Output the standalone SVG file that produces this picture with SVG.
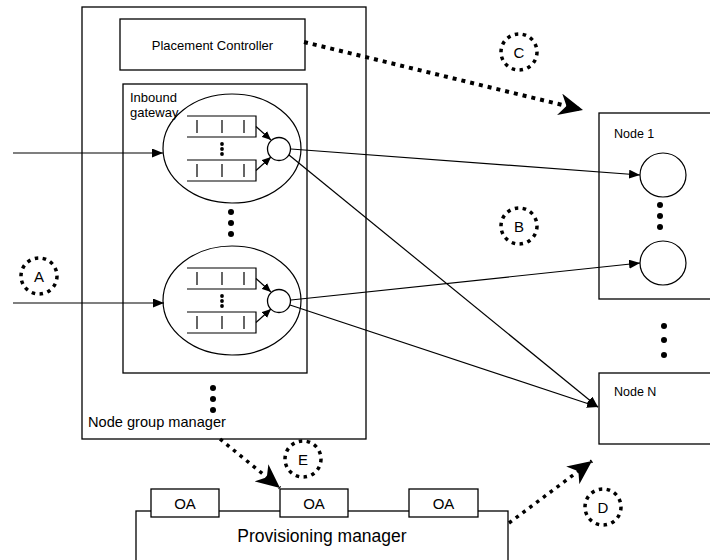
<svg xmlns="http://www.w3.org/2000/svg" width="710" height="560" viewBox="0 0 710 560">
<defs>
<style>
.box{fill:#fff;stroke:#000;stroke-width:1.3}
.ln{fill:none;stroke:#000;stroke-width:1.2}
.t{font-family:"Liberation Sans",Arial,sans-serif;fill:#000}
.dot{fill:#000}
.dc{fill:none;stroke:#000;stroke-width:3.5;stroke-dasharray:3.5 4.5}
.big{fill:none;stroke:#000;stroke-width:4;stroke-dasharray:4 5}
.med{fill:none;stroke:#000;stroke-width:3.5;stroke-dasharray:3.5 5}
</style>
<marker id="tri" markerUnits="userSpaceOnUse" markerWidth="11" markerHeight="9" refX="11" refY="4.5" orient="auto">
<path d="M0,0 L11,4.5 L0,9 z" fill="#000"/>
</marker>
<marker id="tris" markerUnits="userSpaceOnUse" markerWidth="9" markerHeight="8" refX="9" refY="4" orient="auto">
<path d="M0,0 L9,4 L0,8 z" fill="#000"/>
</marker>
<marker id="stealth" markerUnits="userSpaceOnUse" markerWidth="24" markerHeight="22" refX="24" refY="11" orient="auto">
<path d="M0,0 L24,11 L0,22 L7,11 z" fill="#000"/>
</marker>
<g id="gwshape">
<ellipse cx="232" cy="148.5" rx="69" ry="54.5" class="ln"/>
<path d="M187,116 H256 V137 H187 M187,160 H256 V181 H187" class="ln"/>
<path d="M197,120 V133 M222,120 V133 M244,120 V133 M197,164 V177 M222,164 V177 M244,164 V177" class="ln"/>
<circle cx="222" cy="144" r="1.9" class="dot"/>
<circle cx="222" cy="149" r="1.9" class="dot"/>
<circle cx="222" cy="154" r="1.9" class="dot"/>
<path d="M256,126.5 L271,140" class="ln" marker-end="url(#tris)"/>
<path d="M256,170.5 L271,157" class="ln" marker-end="url(#tris)"/>
<circle cx="279" cy="149" r="11.5" class="box" stroke-width="1.2"/>
</g>
</defs>

<g id="node-group-manager">
<rect x="82" y="7" width="284" height="432" class="box"/>
<text x="88" y="427" class="t" font-size="14.6">Node group manager</text>
<circle cx="213" cy="388" r="3" class="dot"/>
<circle cx="213" cy="399" r="3" class="dot"/>
<circle cx="213" cy="410" r="3" class="dot"/>
</g>

<g id="placement-controller">
<rect x="120" y="19" width="185" height="51" class="box"/>
<text x="212.5" y="50" class="t" font-size="13" text-anchor="middle">Placement Controller</text>
</g>

<g id="inbound-gateway">
<rect x="123" y="84" width="184" height="289" class="box"/>
<text x="130" y="102" class="t" font-size="13">Inbound</text>
<text x="130" y="117" class="t" font-size="13">gateway</text>
<circle cx="231" cy="212" r="3" class="dot"/>
<circle cx="231" cy="223" r="3" class="dot"/>
<circle cx="231" cy="234" r="3" class="dot"/>
</g>

<g id="gateway-1">
<use href="#gwshape"/>
</g>
<g id="gateway-2">
<use href="#gwshape" transform="translate(0,152)"/>
</g>

<g id="node-1">
<rect x="599" y="113" width="120" height="186" class="box"/>
<text x="614" y="138" class="t" font-size="12.5">Node 1</text>
<ellipse cx="663" cy="175" rx="23" ry="22" class="ln"/>
<ellipse cx="663" cy="263" rx="23" ry="22" class="ln"/>
<circle cx="660" cy="205" r="3" class="dot"/>
<circle cx="660" cy="216" r="3" class="dot"/>
<circle cx="660" cy="227" r="3" class="dot"/>
</g>

<g id="node-dots">
<circle cx="664" cy="326" r="3" class="dot"/>
<circle cx="664" cy="340" r="3" class="dot"/>
<circle cx="664" cy="355" r="3" class="dot"/>
</g>

<g id="node-n">
<rect x="599" y="373" width="120" height="71" class="box"/>
<text x="614" y="396" class="t" font-size="12.5">Node N</text>
</g>

<g id="provisioning-manager">
<rect x="136" y="511" width="372" height="60" class="box"/>
<text x="322" y="542" class="t" font-size="17.5" text-anchor="middle">Provisioning manager</text>
</g>
<g id="oa-1">
<rect x="151" y="489" width="68" height="28" class="box"/>
<text x="185" y="509" class="t" font-size="15" text-anchor="middle">OA</text>
</g>
<g id="oa-2">
<rect x="280" y="489" width="68" height="28" class="box"/>
<text x="314" y="509" class="t" font-size="15" text-anchor="middle">OA</text>
</g>
<g id="oa-3">
<rect x="409" y="489" width="69" height="28" class="box"/>
<text x="443.5" y="509" class="t" font-size="15" text-anchor="middle">OA</text>
</g>

<g id="labels">
<g id="label-a"><circle cx="39" cy="276" r="18" class="dc"/><text x="39" y="281.5" class="t" font-size="15" text-anchor="middle">A</text></g>
<g id="label-b"><circle cx="519" cy="226" r="18" class="dc"/><text x="519" y="231.5" class="t" font-size="15" text-anchor="middle">B</text></g>
<g id="label-c"><circle cx="519" cy="52" r="18" class="dc"/><text x="519" y="57.5" class="t" font-size="15" text-anchor="middle">C</text></g>
<g id="label-d"><circle cx="603" cy="507" r="18" class="dc"/><text x="603" y="512.5" class="t" font-size="15" text-anchor="middle">D</text></g>
<g id="label-e"><circle cx="303" cy="459" r="18" class="dc"/><text x="303" y="464.5" class="t" font-size="15" text-anchor="middle">E</text></g>
</g>

<g id="connectors">
<path d="M13,153 H163" class="ln" marker-end="url(#tri)"/>
<path d="M13,303 H164" class="ln" marker-end="url(#tri)"/>
<path d="M291,149 L640,175" class="ln" marker-end="url(#tri)"/>
<path d="M289,155 L598,407" class="ln" marker-end="url(#tri)"/>
<path d="M291,300 L640,263" class="ln" marker-end="url(#tri)"/>
<path d="M290,305 L598,407" class="ln" marker-end="url(#tri)"/>
<path d="M304,42 L583,110" class="big" marker-end="url(#stealth)"/>
<path d="M220,439 L280,488" class="med" marker-end="url(#stealth)"/>
<path d="M509,523 L592,461" class="med" marker-end="url(#stealth)"/>
</g>
</svg>
